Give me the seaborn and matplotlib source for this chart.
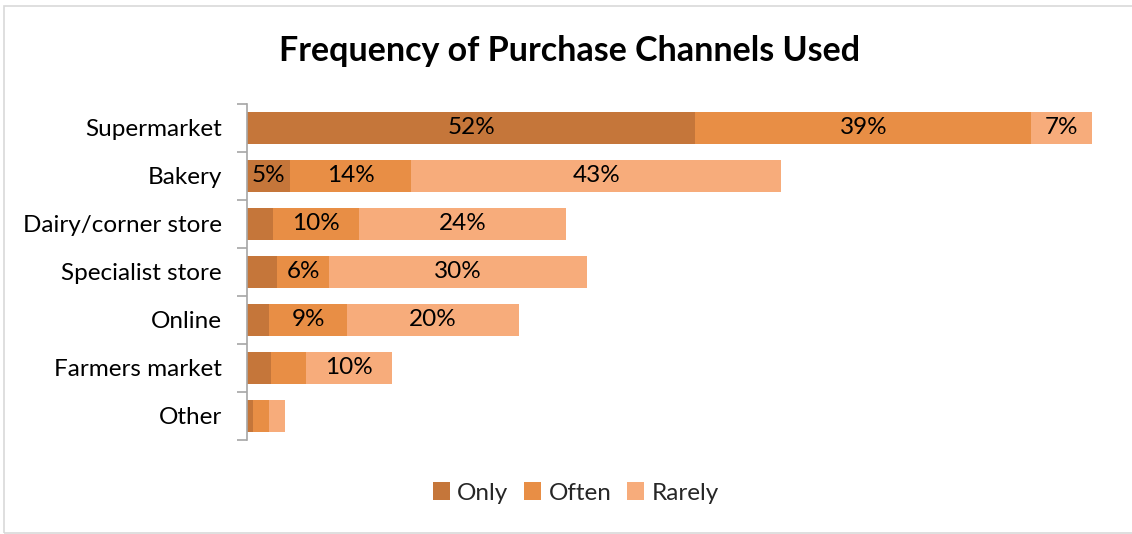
import matplotlib
matplotlib.use("Agg")
import matplotlib.pyplot as plt
import seaborn as sns
import pandas as pd
import numpy as np
from matplotlib.patches import Rectangle

channels = ["Supermarket", "Bakery", "Dairy/corner store", "Specialist store",
            "Online", "Farmers market", "Other"]
only = [52, 5, 3, 3.5, 2.6, 2.8, 0.7]
often = [39, 14, 10, 6, 9, 4, 1.9]
rarely = [7, 43, 24, 30, 20, 10, 1.8]
series_names = ["Only", "Often", "Rarely"]
colors = ["#C5763A", "#E88E45", "#F7AC7B"]

sns.set_theme(style="white")
plt.rcParams["font.family"] = ["Lato", "DejaVu Sans"]

fig = plt.figure(figsize=(11.32, 5.34), dpi=100)
ax = fig.add_axes([247 / 1132, 1 - 440 / 534, 862 / 1132, 336 / 534])

df = pd.DataFrame({"channel": channels, "Only": only, "Often": often, "Rarely": rarely})
stack = df[series_names].cumsum(axis=1)

# draw stacked bars from the back (full total) to the front (first segment)
for name, col in reversed(list(zip(series_names, colors))):
    sns.barplot(x=stack[name], y=df["channel"], orient="h", color=col,
                width=0.667, ax=ax, label=name, saturation=1, linewidth=0)

# segment value labels
for name in series_names:
    starts = stack[name] - df[name]
    for i, (s, v) in enumerate(zip(starts, df[name])):
        if v >= 5:
            ax.text(s + v / 2, i, f"{v:.0f}%", ha="center", va="center",
                    fontsize=17.5, color="black")

ax.set_xlim(0, 100)
ax.set_ylim(6.5, -0.5)
ax.set_xlabel("")
ax.set_ylabel("")
ax.set_xticks([])
for sp in ["top", "right", "bottom"]:
    ax.spines[sp].set_visible(False)
ax.spines["left"].set_color("#A6A6A6")
ax.spines["left"].set_linewidth(1.2)
ax.set_yticks(np.arange(-0.5, 7, 1), minor=True)
ax.tick_params(axis="y", which="minor", length=7, color="#A6A6A6", width=1.2, left=True)
ax.tick_params(axis="y", which="major", length=0, pad=18, labelsize=17.5, labelcolor="black")

handles, labels = ax.get_legend_handles_labels()
order = [labels.index(n) for n in series_names]
fig.legend([handles[i] for i in order], series_names, loc="center",
           bbox_to_anchor=(576 / 1132, 1 - 493 / 534), ncol=3, frameon=False,
           fontsize=17.5, handlelength=0.7, handleheight=0.7, handletextpad=0.3,
           columnspacing=0.65)
if ax.get_legend():
    ax.get_legend().remove()

fig.text(570 / 1132, 1 - 51 / 534, "Frequency of Purchase Channels Used",
         ha="center", va="center", fontsize=24.5, fontweight="bold", color="black")

fig.patches.append(Rectangle((4 / 1132, 1 / 534), 1.2, 1 - 7 / 534,
                             transform=fig.transFigure, fill=False,
                             edgecolor="#D9D9D9", linewidth=1.2))

fig.savefig("out.png", dpi=100, facecolor="white")
